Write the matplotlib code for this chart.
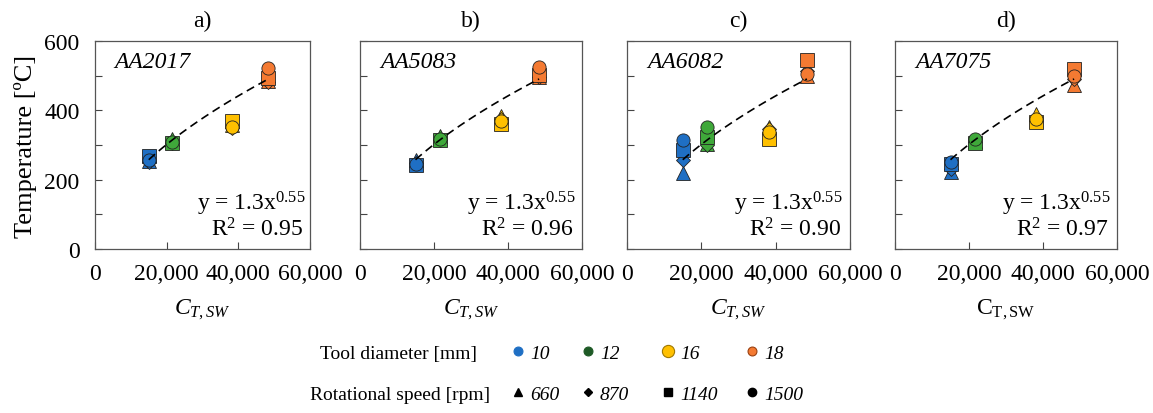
import numpy as np
import matplotlib
matplotlib.use("Agg")
import matplotlib.pyplot as plt
from matplotlib.ticker import FuncFormatter

plt.rcParams["font.family"] = ["Liberation Serif", "DejaVu Serif"]
plt.rcParams["mathtext.fontset"] = "custom"
plt.rcParams["mathtext.rm"] = "Liberation Serif"
plt.rcParams["mathtext.it"] = "Liberation Serif:italic"

# data
panel_labels = ["a)", "b)", "c)", "d)"]
alloys = ["AA2017", "AA5083", "AA6082", "AA7075"]
r2_values = ["0.95", "0.96", "0.90", "0.97"]
diameters = ["10", "12", "16", "18"]
speeds = ["660", "870", "1140", "1500"]
c_tsw = [15000, 21500, 38200, 48400]

# temperature [degC], rows = tool diameter, cols = rotational speed
temp_aa2017 = [[255, 250, 268, 258],
               [318, 305, 305, 309],
               [358, 350, 368, 352],
               [485, 483, 492, 522]]
temp_aa5083 = [[258, 248, 243, 245],
               [325, 315, 314, 318],
               [383, 375, 362, 370],
               [495, 497, 501, 524]]
temp_aa6082 = [[219, 258, 286, 315],
               [303, 300, 323, 353],
               [352, 345, 317, 338],
               [499, 514, 544, 505]]
temp_aa7075 = [[221, 231, 245, 250],
               [312, 308, 305, 316],
               [388, 370, 365, 376],
               [472, 490, 518, 500]]
temps = [temp_aa2017, temp_aa5083, temp_aa6082, temp_aa7075]

fit_a, fit_b = 1.3, 0.55

colors = ["#1f6fc4", "#3fa83a", "#ffc000", "#f47a32"]
edge_colors = ["#14406e", "#1f5a1f", "#a07800", "#9a4010"]
legend_colors = ["#1f6fc4", "#1e5a26", "#ffc000", "#f47a32"]
markers = ["^", "D", "s", "o"]
msizes = [9.5, 7, 9.5, 9.5]

FS = 17
W, H = 1153, 414
fig = plt.figure(figsize=(W / 100, H / 100), dpi=100)

boxes = [(95, 310), (360, 582), (627, 850), (895, 1117)]
top_px, bot_px = 42, 250

for i, (x0, x1) in enumerate(boxes):
    ax = fig.add_axes([x0 / W, 1 - bot_px / H, (x1 - x0) / W, (bot_px - top_px) / H])
    for d in range(4):
        for s in range(4):
            ax.plot(c_tsw[d], temps[i][d][s], marker=markers[s], ms=msizes[s],
                    color=colors[d], mec="#222222", mew=0.6, ls="none", zorder=3)
    xf = np.linspace(min(c_tsw), max(c_tsw), 50)
    ax.plot(xf, fit_a * xf ** fit_b, ls=(0, (5, 3)), color="black", lw=1.2, zorder=4)

    ax.set_xlim(0, 60000)
    ax.set_ylim(0, 600)
    ax.set_xticks([0, 20000, 40000, 60000])
    ax.xaxis.set_major_formatter(FuncFormatter(lambda v, p: f"{int(v):,}"))
    ax.set_yticks(range(0, 700, 100))
    if i == 0:
        ax.set_yticklabels([str(v) if v % 200 == 0 else "" for v in range(0, 700, 100)])
        ax.set_ylabel("Temperature [ºC]", fontsize=19, labelpad=5)
    else:
        ax.set_yticklabels([])
    ax.tick_params(direction="in", length=5, width=0.8, labelsize=FS, colors="#444444",
                   labelcolor="black")
    ax.tick_params(axis="x", pad=10)
    ax.tick_params(axis="y", pad=11)
    for sp in ax.spines.values():
        sp.set_color("#555555")
        sp.set_linewidth(0.9)

    if i < 3:
        ax.set_xlabel("$\\mathit{C}_{\\mathit{T,SW}}$", fontsize=FS, labelpad=9)
    else:
        ax.set_xlabel("C$_{\\mathrm{T,SW}}$", fontsize=FS, labelpad=9)
    ax.set_title(panel_labels[i], fontsize=FS, pad=11)
    ax.text(0.09, 0.9, alloys[i], transform=ax.transAxes, fontsize=FS,
            style="italic", va="center", ha="left")
    ax.text(0.725, 0.22, "y = 1.3x$^{0.55}$", transform=ax.transAxes, fontsize=FS,
            ha="center", va="center")
    ax.text(0.755, 0.095, "R$^{2}$ = " + r2_values[i], transform=ax.transAxes,
            fontsize=FS, ha="center", va="center")

# legend drawn in pixel coordinates
lax = fig.add_axes([0, 0, 1, 1])
lax.set_xlim(0, W)
lax.set_ylim(H, 0)
lax.axis("off")
lax.text(477, 355, "Tool diameter [mm]", fontsize=14, ha="right", va="center")
lax.text(490, 396, "Rotational speed [rpm]", fontsize=14, ha="right", va="center")
leg_x = [518, 588, 668, 752]
for k in range(4):
    size = 11 if k == 2 else 8
    lax.plot(leg_x[k], 352, marker="o", ms=size * 0.8, color=legend_colors[k],
             mec=edge_colors[k] if k >= 2 else legend_colors[k], mew=0.8, ls="none")
    lax.text(leg_x[k] + 12, 355, diameters[k], fontsize=14, style="italic",
             ha="left", va="center")
    lax.plot(leg_x[k], 393, marker=markers[k], ms=6 if k != 1 else 4.5,
             color="black", ls="none")
    lax.text(leg_x[k] + 12, 396, speeds[k], fontsize=14, style="italic",
             ha="left", va="center")

fig.savefig("out.png", dpi=100)
